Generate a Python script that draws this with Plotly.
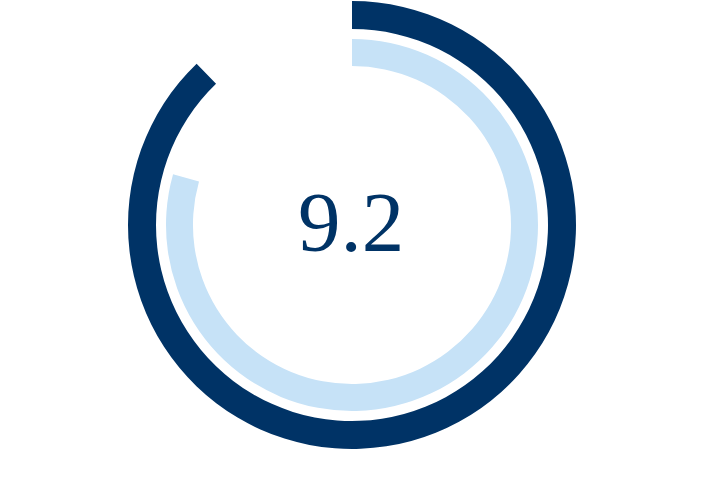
import plotly.graph_objects as go

# gauge values (share of a full circle, in %)
score_label = "9.2"
ring_names = ["outer", "inner"]
ring_values = [87.8, 79.4]
ring_colors = ["#003366", "#c6e2f7"]

W, H = 704, 500
cx, cy = 351, 225          # centre of the rings, px from top-left
ring_radius = [224, 186]   # outer edge radius of each ring, px
ring_hole = [0.875, 0.855]

fig = go.Figure()

for name, val, col, r, hole in zip(ring_names, ring_values, ring_colors, ring_radius, ring_hole):
    fig.add_trace(go.Pie(
        values=[val, 100 - val],
        labels=[name, name + " rest"],
        marker=dict(colors=[col, "rgba(0,0,0,0)"], line=dict(width=0)),
        hole=hole,
        sort=False,
        direction="clockwise",
        rotation=0,
        textinfo="none",
        hoverinfo="skip",
        showlegend=False,
        domain=dict(x=[0, 1], y=[1 - (cy + r) / H, 1 - (cy - r) / H]),
    ))

fig.add_annotation(
    text=score_label,
    x=cx / W, y=1 - (cy - 3) / H,
    xref="paper", yref="paper",
    xanchor="center", yanchor="middle",
    showarrow=False,
    font=dict(family="Liberation Serif", size=85, color="#003366"),
)

fig.update_layout(
    width=W, height=H,
    margin=dict(l=0, r=0, t=0, b=0),
    paper_bgcolor="white",
    plot_bgcolor="white",
)

# drop the browser's default 8px page margin so the chart sits at the corner
fig.write_html(
    "out.html",
    config={"displayModeBar": False},
    post_script="document.body.style.margin = '0';",
)
